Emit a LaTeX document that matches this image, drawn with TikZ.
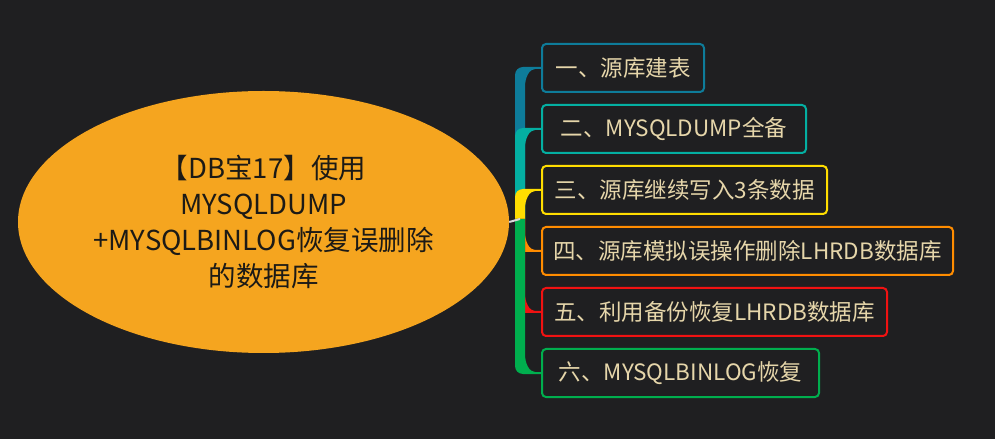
\documentclass[tikz,border=0pt]{standalone}
\usepackage{fontspec}
\setmainfont{Noto Sans CJK SC}
\usetikzlibrary{shapes.geometric, calc}

\definecolor{bg}{HTML}{1F1F21}
\definecolor{topicfill}{HTML}{F5A51F}
\definecolor{ink}{HTML}{1C1A16}
\definecolor{beige}{HTML}{E6D6AA}
\definecolor{c1}{HTML}{0E7C9A}
\definecolor{c2}{HTML}{04AFA2}
\definecolor{c3}{HTML}{FFDD00}
\definecolor{c4}{HTML}{FF8C00}
\definecolor{c5}{HTML}{F01212}
\definecolor{c6}{HTML}{00AE4E}

\begin{document}
\begin{tikzpicture}[x=1pt, y=1pt,
    topic/.style={ellipse, fill=topicfill, text=ink, align=center, inner sep=0pt,
      minimum width=491pt, minimum height=262pt, font=\fontsize{27.5}{36}\selectfont},
    box/.style={draw=#1, line width=2pt, rounded corners=4pt, fill=bg, text=beige,
      anchor=west, minimum height=48pt, inner sep=0pt, font=\fontsize{22.5}{26}\selectfont},
    tick/.style={draw=white!85!black, line width=2pt}]
  \fill [bg] (0,0) rectangle (995,439);
  \useasboundingbox (0,0) rectangle (995,439);

  \node (main) [topic] at (263.5,217) {【DB宝17】使用\\MYSQLDUMP\\+MYSQLBINLOG恢复误删除\\的数据库};
  \coordinate (root) at (520,220);

  \node (b1) [box=c1, minimum width=162pt] at (541,371) {一、源库建表};
  \node (b2) [box=c2, minimum width=264pt] at (541,310) {二、MYSQLDUMP全备};
  \node (b3) [box=c3, minimum width=285pt] at (541,249) {三、源库继续写入3条数据};
  \node (b4) [box=c4, minimum width=411pt] at (541,188) {四、源库模拟误操作删除LHRDB数据库};
  \node (b5) [box=c5, minimum width=345pt] at (541,127) {五、利用备份恢复LHRDB数据库};
  \node (b6) [box=c6, minimum width=277pt] at (541,66) {六、MYSQLBINLOG恢复};

  % branches: thick trunk part, thin part into the box
  \foreach \b/\c/\s/\e in {b1/c1/1/90, b2/c2/1/90, b3/c3/1/90, b4/c4/-1/270, b5/c5/-1/270, b6/c6/-1/270}
    \fill [\c] let \p1 = (root), \p2 = (\b.west) in
      (\x1-5pt, \y1) -- (\x1-5pt, {\y2-7pt*\s})
      arc [start angle=180, end angle=\e, radius=8pt]
      -- (\x2, {\y2+1pt*\s}) -- (\x2, {\y2-1pt*\s}) -- (\x1+15pt, {\y2-1pt*\s})
      arc [start angle=\e, end angle=180, x radius=10pt, y radius=18pt]
      -- (\x1+5pt, \y1) -- cycle;

  \draw [tick] (main.east) -- (root);
\end{tikzpicture}
\end{document}
